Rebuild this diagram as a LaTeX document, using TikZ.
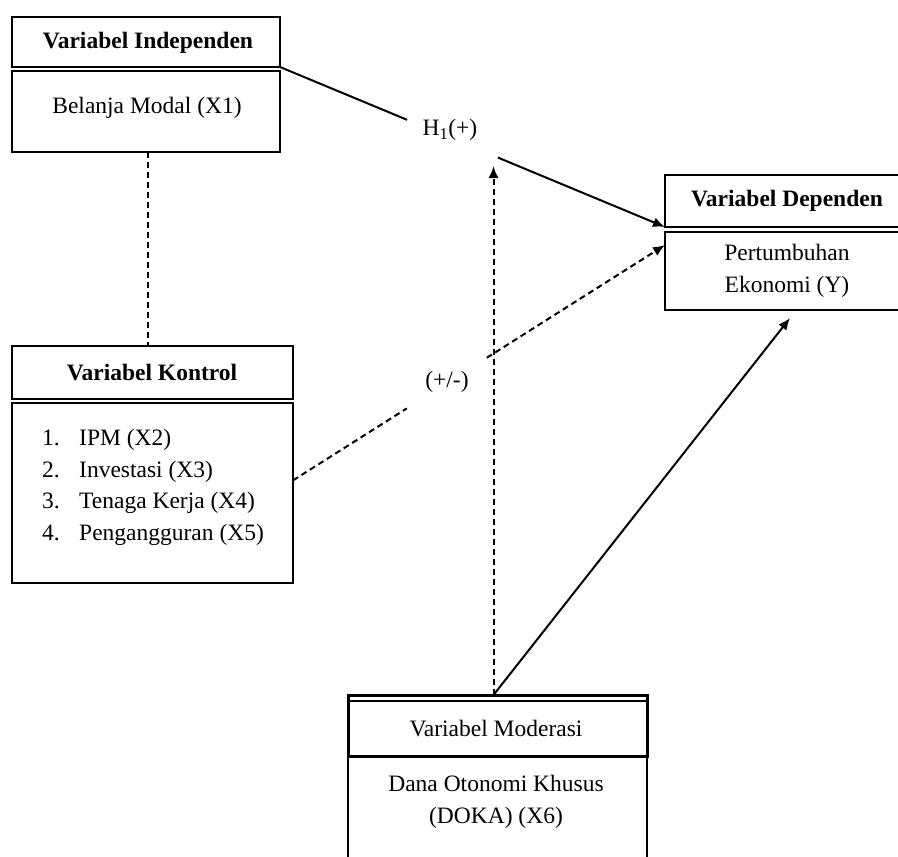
\documentclass[tikz,border=0pt]{standalone}
\usepackage{fontspec}
\setmainfont{Liberation Serif}
\usetikzlibrary{arrows.meta,calc}
\begin{document}
\begin{tikzpicture}[x=1pt,y=-1pt,
  box/.style={draw,line width=2pt,anchor=north west,inner sep=0pt,outer sep=0pt},
  txt/.style={font=\fontsize{23.5}{32}\selectfont,inner sep=0pt,align=center},
  btxt/.style={font=\fontsize{23.5}{32}\selectfont\bfseries,inner sep=0pt,align=center},
  link/.style={line width=2pt},
  dlink/.style={line width=2pt,dash pattern=on 6pt off 4pt},
  tip/.style={-{Latex[length=12pt,width=10pt]}}
]
\useasboundingbox (0,0) rectangle (898,857);
\clip (0,0) rectangle (898,857);
% Independent
\node[box,minimum width=268pt,minimum height=50pt] (indH) at (12,17) {};
\node[box,minimum width=268pt,minimum height=81pt] (indB) at (12,71) {};
\node[btxt] (indHt) at (148,43) {Variabel Independen};
\node[txt] (indBt) at (147,108) {Belanja Modal (X1)};
% Control
\node[box,minimum width=281pt,minimum height=53pt] (konH) at (12,346) {};
\node[box,minimum width=281pt,minimum height=180pt] (konB) at (12,403) {};
\node[btxt] (konHt) at (152,373) {Variabel Kontrol};
\node[txt,anchor=base west] (k1) at (42,445) {\makebox[37pt][l]{1.}IPM (X2)};
\node[txt,anchor=base west] (k2) at (42,477) {\makebox[37pt][l]{2.}Investasi (X3)};
\node[txt,anchor=base west] (k3) at (42,508) {\makebox[37pt][l]{3.}Tenaga Kerja (X4)};
\node[txt,anchor=base west] (k4) at (42,540) {\makebox[37pt][l]{4.}Pengangguran (X5)};
% Dependent
\node[box,minimum width=245pt,minimum height=52pt] (depH) at (665,175) {};
\node[box,minimum width=245pt,minimum height=78pt] (depB) at (665,232) {};
\node[btxt] (depHt) at (787,201) {Variabel Dependen};
\node[txt] (depBt) at (787,271) {Pertumbuhan\\Ekonomi (Y)};
% Moderation
\node[box,line width=3pt,minimum width=299pt,minimum height=61pt] (modH) at (348,695) {};
\draw[line width=1.5pt] (modH.north west) ++(0,6) -- ++(299,0);
\node[box,minimum width=299pt,minimum height=130pt] (modB) at (348,756) {};
\node[txt] (modHt) at (496,729) {Variabel Moderasi};
\node[txt] (modBt) at (496,802) {Dana Otonomi Khusus\\(DOKA) (X6)};
% Labels
\node[txt] (h1) at (450,130) {H\textsubscript{1}(+)};
\node[txt] (pm) at (447,382) {(+/-)};
% Connectors
\draw[dlink] ([xshift=2pt]indB.south) -- ([xshift=2pt]indB.south |- konH.north);
\coordinate (h1a) at ($(indH.south east)!0.33!(depH.south west)$);
\coordinate (h1b) at ($(indH.south east)!0.566!(depH.south west)$);
\draw[link] (indH.south east) -- (h1a);
\draw[link,tip] (h1b) -- (depH.south west);
\coordinate (kout) at ($(konB.north east)!0.43!(konB.south east)$);
\coordinate (din) at ($(depB.north west)!0.167!(depB.south west)$);
\coordinate (pma) at ($(kout)!0.306!(din)$);
\coordinate (pmb) at ($(kout)!0.521!(din)$);
\draw[dlink] (kout) -- (pma);
\draw[dlink,tip] (pmb) -- (din);
\coordinate (mtop) at ([xshift=-4pt]modH.north);
\coordinate (vtip) at (mtop |- 0,166);
\draw[dlink,tip] (mtop) -- (vtip);
\coordinate (ytip) at (790,318);
\draw[link,tip] (mtop) -- (ytip);
\end{tikzpicture}
\end{document}
